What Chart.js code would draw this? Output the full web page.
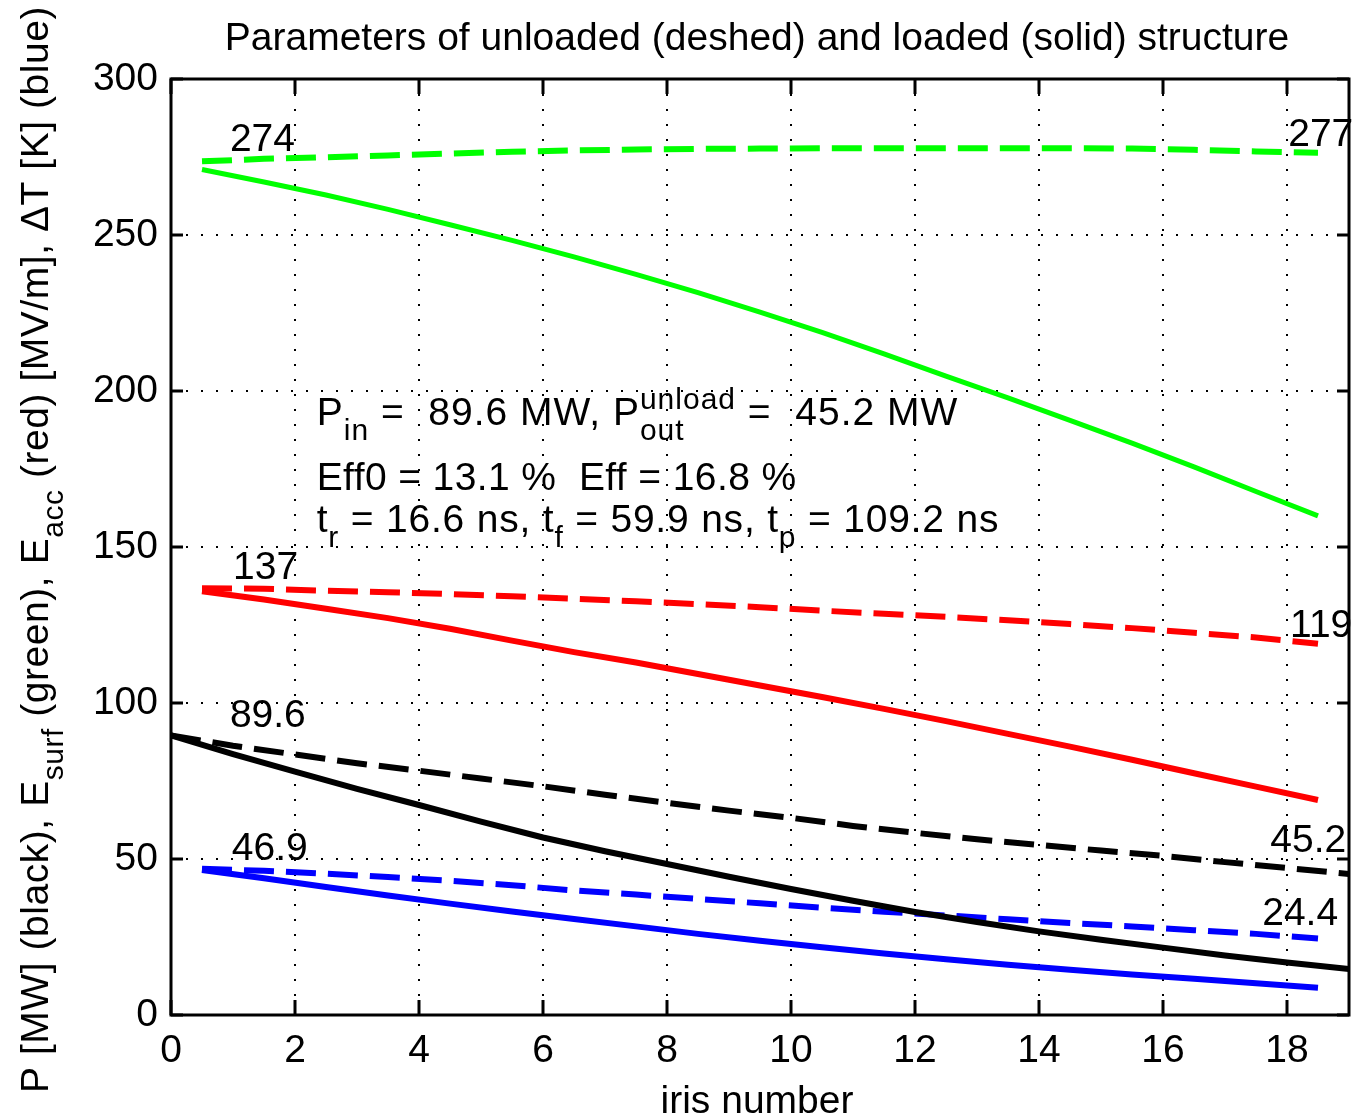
<!DOCTYPE html>
<html>
<head>
<meta charset="utf-8">
<script src="https://cdn.jsdelivr.net/npm/chart.js@4.4.0/dist/chart.umd.min.js"></script>
<style>
html, body { margin: 0; padding: 0; background: #fff; overflow: hidden; }
#wrap { width: 1352px; height: 1117px; position: relative; }
</style>
</head>
<body>
<div id="wrap"><canvas id="chart"></canvas></div>
<script>
// iris positions: most curves sit at cell centres, the power curves at cell edges
var irisCentres = [0.5, 1.5, 2.5, 3.5, 4.5, 5.5, 6.5, 7.5, 8.5, 9.5, 10.5, 11.5, 12.5, 13.5, 14.5, 15.5, 16.5, 17.5, 18.5];
var irisEdges = [0, 1, 2, 3, 4, 5, 6, 7, 8, 9, 10, 11, 12, 13, 14, 15, 16, 17, 18, 19];

// Esurf [MV/m] (green)
var esurfUnloaded = [273.6, 274.4, 274.9, 275.5, 276.1, 276.7, 277.1, 277.4, 277.6, 277.7, 277.8, 277.8, 277.8, 277.8, 277.8, 277.7, 277.3, 276.8, 276.4];
var esurfLoaded = [271.0, 267.0, 262.8, 258.2, 253.3, 248.3, 243.0, 237.4, 231.5, 225.3, 218.8, 211.9, 204.8, 197.8, 190.6, 183.3, 175.7, 167.8, 160.0];
// Eacc [MV/m] (red)
var eaccUnloaded = [136.8, 136.6, 136.0, 135.5, 134.9, 134.2, 133.4, 132.6, 131.7, 130.7, 129.6, 128.6, 127.6, 126.5, 125.3, 124.0, 122.5, 121.0, 119.0];
var eaccLoaded = [135.8, 133.2, 130.2, 127.2, 123.8, 120.0, 116.3, 113.0, 109.3, 105.6, 101.9, 98.1, 94.2, 90.1, 86.0, 81.8, 77.5, 73.2, 68.9];
// P [MW] (black)
var powerUnloaded = [89.6, 86.3, 83.5, 80.7, 78.3, 75.8, 73.3, 70.6, 68.0, 65.5, 63.2, 60.6, 58.4, 56.3, 54.5, 52.7, 51.0, 49.0, 47.1, 45.2];
var powerLoaded = [89.6, 83.6, 78.0, 72.5, 67.3, 62.0, 56.9, 52.5, 48.4, 44.3, 40.4, 36.6, 33.0, 29.8, 26.8, 24.1, 21.6, 19.1, 16.8, 14.7];
// dT [K] (blue)
var dtUnloaded = [46.9, 46.2, 45.3, 44.2, 43.0, 41.6, 39.9, 38.6, 37.2, 35.8, 34.4, 33.1, 31.9, 30.7, 29.5, 28.4, 27.2, 26.0, 24.5];
var dtLoaded = [46.5, 43.8, 41.0, 38.3, 35.7, 33.2, 30.8, 28.4, 26.0, 23.8, 21.7, 19.7, 17.9, 16.1, 14.5, 13.0, 11.6, 10.2, 8.7];

// end values written on the unloaded curves (green, red, black, blue)
var startLabels = ["274", "137", "89.6", "46.9"];
var endLabels = ["277", "119", "45.2", "24.4"];

var xTicks = [0, 2, 4, 6, 8, 10, 12, 14, 16, 18];
var yTicks = [0, 50, 100, 150, 200, 250, 300];

var titleText = "Parameters of unloaded (deshed) and loaded (solid) structure";
var xTitle = "iris number";

var FONT = '"Liberation Sans", Arial, sans-serif';

function points(xs, ys) {
    return xs.map((x, i) => ({ x: x, y: ys[i] }));
}

function line(xs, ys, color, dashed, width) {
    return {
        data: points(xs, ys),
        borderColor: color,
        borderWidth: width || 6,
        borderDash: dashed ? [30, 12] : [],
        borderCapStyle: 'butt',
        pointRadius: 0,
        tension: 0,
        fill: false
    };
}

/**
 * Draws a run of text made of normal, sub and superscript pieces
 */
function richText(ctx, parts, x, y, size, spacing) {
    var small = Math.round(size * 0.78);
    ctx.letterSpacing = (spacing || 0) + 'px';
    parts.forEach(p => {
        if (p.sup !== undefined || p.sub !== undefined) {
            var w = 0;
            ctx.font = small + 'px ' + FONT;
            if (p.sup) { ctx.fillText(p.sup, x, y - size * 0.42); w = Math.max(w, ctx.measureText(p.sup).width); }
            if (p.sub) { ctx.fillText(p.sub, x, y + size * 0.38); w = Math.max(w, ctx.measureText(p.sub).width); }
            x += w;
        } else {
            ctx.font = size + 'px ' + FONT;
            ctx.fillText(p.t, x, y);
            x += ctx.measureText(p.t).width;
        }
    });
    ctx.letterSpacing = '0px';
}

var matlabAxes = {
    id: 'matlabAxes',
    afterDatasetsDraw(chart) {
        var ctx = chart.ctx, ca = chart.chartArea;
        var xs = chart.scales.x, ys = chart.scales.y;
        ctx.save();
        ctx.strokeStyle = '#000';
        ctx.lineWidth = 3;
        ctx.strokeRect(ca.left, ca.top, ca.right - ca.left, ca.bottom - ca.top);
        // inward ticks on all four sides
        ctx.beginPath();
        xTicks.forEach(v => {
            var px = Math.round(xs.getPixelForValue(v));
            ctx.moveTo(px, ca.bottom); ctx.lineTo(px, ca.bottom - 15);
            ctx.moveTo(px, ca.top); ctx.lineTo(px, ca.top + 15);
        });
        yTicks.forEach(v => {
            var py = Math.round(ys.getPixelForValue(v));
            ctx.moveTo(ca.left, py); ctx.lineTo(ca.left + 12, py);
            ctx.moveTo(ca.right, py); ctx.lineTo(ca.right - 12, py);
        });
        ctx.stroke();
        ctx.restore();
    },
    afterDraw(chart) {
        var ctx = chart.ctx, ca = chart.chartArea;
        var xs = chart.scales.x, ys = chart.scales.y;
        var size = 39;
        ctx.save();
        ctx.fillStyle = '#000';
        ctx.font = size + 'px ' + FONT;

        // tick labels
        ctx.textAlign = 'center';
        ctx.textBaseline = 'middle';
        xTicks.forEach(v => ctx.fillText(String(v), xs.getPixelForValue(v), ca.bottom + 36));
        ctx.textAlign = 'right';
        yTicks.forEach(v => ctx.fillText(String(v), ca.left - 13, ys.getPixelForValue(v)));

        // title and x label
        ctx.textAlign = 'center';
        ctx.textBaseline = 'alphabetic';
        ctx.fillText(titleText, (ca.left + ca.right) / 2 - 3, 50);
        ctx.fillText(xTitle, (ca.left + ca.right) / 2 - 3, 1113);

        // y label, rotated, with subscripts
        ctx.save();
        ctx.translate(48, 1093);
        ctx.rotate(-Math.PI / 2);
        ctx.textAlign = 'left';
        richText(ctx, [
            { t: 'P [MW] (black), E' }, { sub: 'surf' },
            { t: ' (green), E' }, { sub: 'acc' },
            { t: ' (red) [MV/m], \u0394T [K] (blue)' }
        ], 0, 0, size, 0.55);
        ctx.restore();

        // values at the ends of the unloaded curves
        ctx.textAlign = 'left';
        ctx.textBaseline = 'middle';
        var startPos = [[0.95, 280.4], [1.0, 143.3], [0.95, 95.8], [0.98, 53.2]];
        var endPos = [[18.02, 282.1], [18.05, 124.7], [17.73, 55.8], [17.6, 32.4]];
        startLabels.forEach((s, i) => ctx.fillText(s, xs.getPixelForValue(startPos[i][0]), ys.getPixelForValue(startPos[i][1])));
        endLabels.forEach((s, i) => ctx.fillText(s, xs.getPixelForValue(endPos[i][0]), ys.getPixelForValue(endPos[i][1])));

        // summary text block
        ctx.textBaseline = 'alphabetic';
        var tx = xs.getPixelForValue(2.35);
        richText(ctx, [
            { t: 'P' }, { sub: 'in' }, { t: ' =  89.6 MW, P' }, { sup: 'unload', sub: 'out' }, { t: ' =  45.2 MW' }
        ], tx, ys.getPixelForValue(189.1), size, 1);
        richText(ctx, [{ t: 'Eff0 = 13.1 %  Eff = 16.8 %' }], tx, ys.getPixelForValue(168.3), size, 0.4);
        richText(ctx, [
            { t: 't' }, { sub: 'r' }, { t: ' = 16.6 ns, t' }, { sub: 'f' }, { t: ' = 59.9 ns, t' }, { sub: 'p' }, { t: ' = 109.2 ns' }
        ], tx, ys.getPixelForValue(154.8), size, 0.8);
        ctx.restore();
    }
};

var gridOpts = { color: '#000', lineWidth: 2, drawTicks: false };
var borderOpts = { display: false, dash: [2, 13] };

var chart = new Chart(document.getElementById('chart'), {
    type: 'line',
    data: {
        datasets: [
            line(irisCentres, esurfUnloaded, '#00ff00', true),
            line(irisCentres, esurfLoaded, '#00ff00', false, 5),
            line(irisCentres, eaccUnloaded, '#ff0000', true),
            line(irisCentres, eaccLoaded, '#ff0000', false),
            line(irisEdges, powerUnloaded, '#000000', true),
            line(irisEdges, powerLoaded, '#000000', false),
            line(irisCentres, dtUnloaded, '#0000ff', true),
            line(irisCentres, dtLoaded, '#0000ff', false)
        ]
    },
    options: {
        responsive: true,
        maintainAspectRatio: false,
        animation: false,
        layout: { padding: { top: 79, right: 3, bottom: 0, left: 0 } },
        plugins: { legend: { display: false }, tooltip: { enabled: false }, title: { display: false } },
        scales: {
            x: {
                type: 'linear', min: 0, max: 19,
                ticks: { stepSize: 2, includeBounds: false, display: false },
                grid: gridOpts, border: borderOpts,
                afterFit: scale => { scale.height = 102; }
            },
            y: {
                type: 'linear', min: 0, max: 300,
                ticks: { stepSize: 50, display: false },
                grid: gridOpts, border: borderOpts,
                afterFit: scale => { scale.width = 171; }
            }
        }
    },
    plugins: [matlabAxes]
});
</script>
</body>
</html>
